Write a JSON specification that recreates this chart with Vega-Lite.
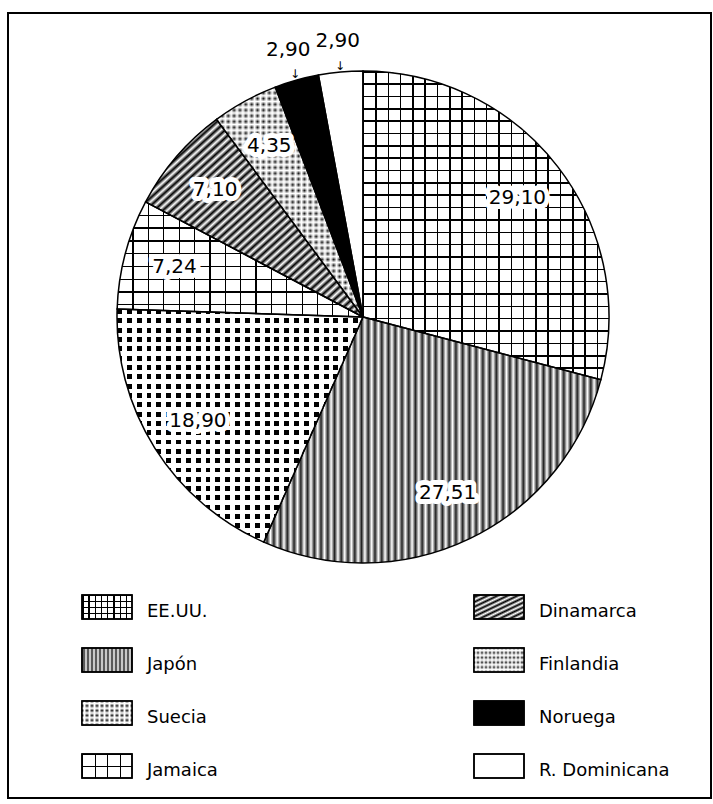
{
"$schema": "https://vega.github.io/schema/vega-lite/v6.json",
"width": 703, "height": 785,
"autosize": {"type": "none"},
"padding": {"left": 8, "top": 13, "right": 2, "bottom": 6},
"background": "#fff",
"params": [
 {"name": "cx", "expr": "width/2+3.5"},
 {"name": "cy", "expr": "height/2-88.5"},
 {"name": "bk", "value": "#000"},
 {"name": "wt", "value": "#fff"},
 {"name": "tr", "value": "rgba(0,0,0,0)"},
 {"name": "tw", "value": "rgba(255,255,255,0)"},
 {"name": "g2", "value": "#222"},
 {"name": "g4", "value": "#111"}
],
"config": {
 "view": {"stroke": null},
 "locale": {"number": {"decimal": ",", "thousands": ".", "grouping": [3], "currency": ["", ""]}},
 "legend": {"padding": 0, "columns": 2, "columnPadding": 253, "rowPadding": 12, "symbolSize": 2500, "symbolStrokeColor": "#000", "symbolStrokeWidth": 1.5, "symbolOpacity": 1, "labelFont": "DejaVu Sans", "labelFontSize": 18, "labelColor": "#000", "labelOffset": 14, "labelLimit": 400}
},
"data": {"values": [
 {"pais": "EE.UU.", "pct": 29.10, "orden": 1},
 {"pais": "Japón", "pct": 27.51, "orden": 2},
 {"pais": "Suecia", "pct": 18.90, "orden": 3},
 {"pais": "Jamaica", "pct": 7.24, "orden": 4},
 {"pais": "Dinamarca", "pct": 7.10, "orden": 5},
 {"pais": "Finlandia", "pct": 4.35, "orden": 6},
 {"pais": "Noruega", "pct": 2.90, "orden": 7},
 {"pais": "R. Dominicana", "pct": 2.90, "orden": 8}
]},
"layer": [
 {"data": {"values": [{"marco": 1}]},
  "mark": {"type": "rect", "fill": null, "stroke": "#000", "strokeWidth": 2},
  "encoding": {"x": {"value": 0}, "x2": {"value": "width"}, "y": {"value": 0}, "y2": {"value": "height"}}},
 {"encoding": {
   "theta": {"field": "pct", "type": "quantitative", "stack": true},
   "order": {"field": "orden", "type": "quantitative"}
  },
  "layer": [
 {"mark": {"type": "arc", "x": {"expr": "cx"}, "y": {"expr": "cy"}, "radius": 246},
  "encoding": {"fill": {"field": "pais", "type": "nominal",
   "scale": {"domain": ["EE.UU.", "Japón", "Suecia", "Jamaica", "Dinamarca", "Finlandia", "Noruega", "R. Dominicana"],
    "range": [
     {"expr": "{gradient:'linear',x1:0,y1:0,x2:1,y2:0,stops:[{offset:0,color:bk},{offset:.03,color:bk},{offset:.03,color:wt},{offset:.125,color:wt},{offset:.125,color:bk},{offset:.155,color:bk},{offset:.155,color:wt},{offset:.25,color:wt},{offset:.25,color:bk},{offset:.28,color:bk},{offset:.28,color:wt},{offset:.375,color:wt},{offset:.375,color:bk},{offset:.405,color:bk},{offset:.405,color:wt},{offset:.5,color:wt},{offset:.5,color:bk},{offset:.53,color:bk},{offset:.53,color:wt},{offset:.625,color:wt},{offset:.625,color:bk},{offset:.655,color:bk},{offset:.655,color:wt},{offset:.75,color:wt},{offset:.75,color:bk},{offset:.78,color:bk},{offset:.78,color:wt},{offset:.875,color:wt},{offset:.875,color:bk},{offset:.905,color:bk},{offset:.905,color:wt},{offset:1,color:wt}]}"},
     {"expr": "{gradient:'linear',x1:0,y1:0,x2:1,y2:0,stops:[{offset:0,color:wt},{offset:.04,color:g2},{offset:.08,color:wt},{offset:.12,color:g2},{offset:.16,color:wt},{offset:.2,color:g2},{offset:.24,color:wt},{offset:.28,color:g2},{offset:.32,color:wt},{offset:.36,color:g2},{offset:.4,color:wt},{offset:.44,color:g2},{offset:.48,color:wt},{offset:.52,color:g2},{offset:.56,color:wt},{offset:.6,color:g2},{offset:.64,color:wt},{offset:.68,color:g2},{offset:.72,color:wt},{offset:.76,color:g2},{offset:.8,color:wt},{offset:.84,color:g2},{offset:.88,color:wt},{offset:.92,color:g2},{offset:.96,color:wt},{offset:1,color:g2}]}"},
     {"expr": "{gradient:'linear',x1:0,y1:0,x2:1,y2:0,stops:[{offset:0,color:bk},{offset:.05,color:wt},{offset:.1,color:bk},{offset:.15,color:wt},{offset:.2,color:bk},{offset:.25,color:wt},{offset:.3,color:bk},{offset:.35,color:wt},{offset:.4,color:bk},{offset:.45,color:wt},{offset:.5,color:bk},{offset:.55,color:wt},{offset:.6,color:bk},{offset:.65,color:wt},{offset:.7,color:bk},{offset:.75,color:wt},{offset:.8,color:bk},{offset:.85,color:wt},{offset:.9,color:bk},{offset:.95,color:wt},{offset:1,color:bk}]}"},
     {"expr": "{gradient:'linear',x1:0,y1:0,x2:1,y2:0,stops:[{offset:0,color:bk},{offset:.025,color:bk},{offset:.025,color:wt},{offset:.25,color:wt},{offset:.25,color:bk},{offset:.275,color:bk},{offset:.275,color:wt},{offset:.5,color:wt},{offset:.5,color:bk},{offset:.525,color:bk},{offset:.525,color:wt},{offset:.75,color:wt},{offset:.75,color:bk},{offset:.775,color:bk},{offset:.775,color:wt},{offset:1,color:wt}]}"},
     {"expr": "{gradient:'linear',x1:0,y1:0,x2:1,y2:1,stops:[{offset:0,color:wt},{offset:.05,color:bk},{offset:.1,color:wt},{offset:.15,color:bk},{offset:.2,color:wt},{offset:.25,color:bk},{offset:.3,color:wt},{offset:.35,color:bk},{offset:.4,color:wt},{offset:.45,color:bk},{offset:.5,color:wt},{offset:.55,color:bk},{offset:.6,color:wt},{offset:.65,color:bk},{offset:.7,color:wt},{offset:.75,color:bk},{offset:.8,color:wt},{offset:.85,color:bk},{offset:.9,color:wt},{offset:.95,color:bk},{offset:1,color:wt}]}"},
     {"expr": "{gradient:'linear',x1:0,y1:0,x2:1,y2:0,stops:[{offset:0,color:g4},{offset:.04,color:wt},{offset:.08,color:g4},{offset:.12,color:wt},{offset:.16,color:g4},{offset:.2,color:wt},{offset:.24,color:g4},{offset:.28,color:wt},{offset:.32,color:g4},{offset:.36,color:wt},{offset:.4,color:g4},{offset:.44,color:wt},{offset:.48,color:g4},{offset:.52,color:wt},{offset:.56,color:g4},{offset:.6,color:wt},{offset:.64,color:g4},{offset:.68,color:wt},{offset:.72,color:g4},{offset:.76,color:wt},{offset:.8,color:g4},{offset:.84,color:wt},{offset:.88,color:g4},{offset:.92,color:wt},{offset:.96,color:g4},{offset:1,color:wt}]}"},
     "#000",
     "#fff"
    ]},
   "legend": {"title": null, "orient": "none", "legendX": 73, "legendY": 568, "zindex": 1, "symbolType": "M-1,-0.48L1,-0.48L1,0.48L-1,0.48Z", "encode": {"labels": {"update": {"dy": {"value": 5}}}}}}}},
 {"mark": {"type": "arc", "x": {"expr": "cx"}, "y": {"expr": "cy"}, "radius": 246},
  "encoding": {"fill": {"field": "pais", "type": "nominal",
   "scale": {"domain": ["EE.UU.", "Japón", "Suecia", "Jamaica", "Dinamarca", "Finlandia", "Noruega", "R. Dominicana"],
    "range": [
     {"expr": "{gradient:'linear',x1:0,y1:0,x2:0,y2:1,stops:[{offset:0,color:bk},{offset:.06,color:bk},{offset:.06,color:tr},{offset:.25,color:tr},{offset:.25,color:bk},{offset:.31,color:bk},{offset:.31,color:tr},{offset:.5,color:tr},{offset:.5,color:bk},{offset:.56,color:bk},{offset:.56,color:tr},{offset:.75,color:tr},{offset:.75,color:bk},{offset:.81,color:bk},{offset:.81,color:tr},{offset:1,color:tr}]}"},
     "rgba(0,0,0,0)",
     {"expr": "{gradient:'linear',x1:0,y1:0,x2:0,y2:1,stops:[{offset:0,color:tw},{offset:.1,color:wt},{offset:.2,color:tw},{offset:.3,color:wt},{offset:.4,color:tw},{offset:.5,color:wt},{offset:.6,color:tw},{offset:.7,color:wt},{offset:.8,color:tw},{offset:.9,color:wt},{offset:1,color:tw}]}"},
     {"expr": "{gradient:'linear',x1:0,y1:0,x2:0,y2:1,stops:[{offset:0,color:bk},{offset:.05,color:bk},{offset:.05,color:tr},{offset:.5,color:tr},{offset:.5,color:bk},{offset:.55,color:bk},{offset:.55,color:tr},{offset:1,color:tr}]}"},
     "rgba(0,0,0,0)",
     {"expr": "{gradient:'linear',x1:0,y1:0,x2:0,y2:1,stops:[{offset:0,color:tw},{offset:.1,color:wt},{offset:.2,color:tw},{offset:.3,color:wt},{offset:.4,color:tw},{offset:.5,color:wt},{offset:.6,color:tw},{offset:.7,color:wt},{offset:.8,color:tw},{offset:.9,color:wt},{offset:1,color:tw}]}"},
     "rgba(0,0,0,0)",
     "rgba(0,0,0,0)"
    ]},
   "legend": {"title": null, "orient": "none", "legendX": 73, "legendY": 568, "zindex": 2, "labelColor": "rgba(0,0,0,0)", "symbolType": "M-1,-0.48L1,-0.48L1,0.48L-1,0.48Z", "encode": {"labels": {"update": {"dy": {"value": 5}}}}}}}},
 {"mark": {"type": "arc", "x": {"expr": "cx"}, "y": {"expr": "cy"}, "radius": 246},
  "encoding": {"fill": {"field": "pais", "type": "nominal", "legend": null,
   "scale": {"domain": ["EE.UU.", "Dinamarca", "Japón", "Finlandia", "Suecia", "Noruega", "Jamaica", "R. Dominicana"],
    "range": [
     {"expr": "{gradient:'linear',x1:0,y1:0,x2:1,y2:0,stops:[{offset:0,color:bk},{offset:.006,color:bk},{offset:.006,color:wt},{offset:.05,color:wt},{offset:.05,color:bk},{offset:.056,color:bk},{offset:.056,color:wt},{offset:.1,color:wt},{offset:.1,color:bk},{offset:.106,color:bk},{offset:.106,color:wt},{offset:.15,color:wt},{offset:.15,color:bk},{offset:.156,color:bk},{offset:.156,color:wt},{offset:.2,color:wt},{offset:.2,color:bk},{offset:.206,color:bk},{offset:.206,color:wt},{offset:.25,color:wt},{offset:.25,color:bk},{offset:.256,color:bk},{offset:.256,color:wt},{offset:.3,color:wt},{offset:.3,color:bk},{offset:.306,color:bk},{offset:.306,color:wt},{offset:.35,color:wt},{offset:.35,color:bk},{offset:.356,color:bk},{offset:.356,color:wt},{offset:.4,color:wt},{offset:.4,color:bk},{offset:.406,color:bk},{offset:.406,color:wt},{offset:.45,color:wt},{offset:.45,color:bk},{offset:.456,color:bk},{offset:.456,color:wt},{offset:.5,color:wt},{offset:.5,color:bk},{offset:.506,color:bk},{offset:.506,color:wt},{offset:.55,color:wt},{offset:.55,color:bk},{offset:.556,color:bk},{offset:.556,color:wt},{offset:.6,color:wt},{offset:.6,color:bk},{offset:.606,color:bk},{offset:.606,color:wt},{offset:.65,color:wt},{offset:.65,color:bk},{offset:.656,color:bk},{offset:.656,color:wt},{offset:.7,color:wt},{offset:.7,color:bk},{offset:.706,color:bk},{offset:.706,color:wt},{offset:.75,color:wt},{offset:.75,color:bk},{offset:.756,color:bk},{offset:.756,color:wt},{offset:.8,color:wt},{offset:.8,color:bk},{offset:.806,color:bk},{offset:.806,color:wt},{offset:.85,color:wt},{offset:.85,color:bk},{offset:.856,color:bk},{offset:.856,color:wt},{offset:.9,color:wt},{offset:.9,color:bk},{offset:.906,color:bk},{offset:.906,color:wt},{offset:.95,color:wt},{offset:.95,color:bk},{offset:.956,color:bk},{offset:.956,color:wt},{offset:1,color:wt}]}"},
     {"expr": "{gradient:'linear',x1:0,y1:0,x2:1,y2:1,stops:[{offset:0,color:wt},{offset:.01,color:bk},{offset:.02,color:wt},{offset:.03,color:bk},{offset:.04,color:wt},{offset:.05,color:bk},{offset:.06,color:wt},{offset:.07,color:bk},{offset:.08,color:wt},{offset:.09,color:bk},{offset:.1,color:wt},{offset:.11,color:bk},{offset:.12,color:wt},{offset:.13,color:bk},{offset:.14,color:wt},{offset:.15,color:bk},{offset:.16,color:wt},{offset:.17,color:bk},{offset:.18,color:wt},{offset:.19,color:bk},{offset:.2,color:wt},{offset:.21,color:bk},{offset:.22,color:wt},{offset:.23,color:bk},{offset:.24,color:wt},{offset:.25,color:bk},{offset:.26,color:wt},{offset:.27,color:bk},{offset:.28,color:wt},{offset:.29,color:bk},{offset:.3,color:wt},{offset:.31,color:bk},{offset:.32,color:wt},{offset:.33,color:bk},{offset:.34,color:wt},{offset:.35,color:bk},{offset:.36,color:wt},{offset:.37,color:bk},{offset:.38,color:wt},{offset:.39,color:bk},{offset:.4,color:wt},{offset:.41,color:bk},{offset:.42,color:wt},{offset:.43,color:bk},{offset:.44,color:wt},{offset:.45,color:bk},{offset:.46,color:wt},{offset:.47,color:bk},{offset:.48,color:wt},{offset:.49,color:bk},{offset:.5,color:wt},{offset:.51,color:bk},{offset:.52,color:wt},{offset:.53,color:bk},{offset:.54,color:wt},{offset:.55,color:bk},{offset:.56,color:wt},{offset:.57,color:bk},{offset:.58,color:wt},{offset:.59,color:bk},{offset:.6,color:wt},{offset:.61,color:bk},{offset:.62,color:wt},{offset:.63,color:bk},{offset:.64,color:wt},{offset:.65,color:bk},{offset:.66,color:wt},{offset:.67,color:bk},{offset:.68,color:wt},{offset:.69,color:bk},{offset:.7,color:wt},{offset:.71,color:bk},{offset:.72,color:wt},{offset:.73,color:bk},{offset:.74,color:wt},{offset:.75,color:bk},{offset:.76,color:wt},{offset:.77,color:bk},{offset:.78,color:wt},{offset:.79,color:bk},{offset:.8,color:wt},{offset:.81,color:bk},{offset:.82,color:wt},{offset:.83,color:bk},{offset:.84,color:wt},{offset:.85,color:bk},{offset:.86,color:wt},{offset:.87,color:bk},{offset:.88,color:wt},{offset:.89,color:bk},{offset:.9,color:wt},{offset:.91,color:bk},{offset:.92,color:wt},{offset:.93,color:bk},{offset:.94,color:wt},{offset:.95,color:bk},{offset:.96,color:wt},{offset:.97,color:bk},{offset:.98,color:wt},{offset:.99,color:bk},{offset:1,color:wt}]}"},
     {"expr": "{gradient:'linear',x1:0,y1:0,x2:1,y2:0,stops:[{offset:0,color:wt},{offset:.01,color:g2},{offset:.02,color:wt},{offset:.03,color:g2},{offset:.04,color:wt},{offset:.05,color:g2},{offset:.06,color:wt},{offset:.07,color:g2},{offset:.08,color:wt},{offset:.09,color:g2},{offset:.1,color:wt},{offset:.11,color:g2},{offset:.12,color:wt},{offset:.13,color:g2},{offset:.14,color:wt},{offset:.15,color:g2},{offset:.16,color:wt},{offset:.17,color:g2},{offset:.18,color:wt},{offset:.19,color:g2},{offset:.2,color:wt},{offset:.21,color:g2},{offset:.22,color:wt},{offset:.23,color:g2},{offset:.24,color:wt},{offset:.25,color:g2},{offset:.26,color:wt},{offset:.27,color:g2},{offset:.28,color:wt},{offset:.29,color:g2},{offset:.3,color:wt},{offset:.31,color:g2},{offset:.32,color:wt},{offset:.33,color:g2},{offset:.34,color:wt},{offset:.35,color:g2},{offset:.36,color:wt},{offset:.37,color:g2},{offset:.38,color:wt},{offset:.39,color:g2},{offset:.4,color:wt},{offset:.41,color:g2},{offset:.42,color:wt},{offset:.43,color:g2},{offset:.44,color:wt},{offset:.45,color:g2},{offset:.46,color:wt},{offset:.47,color:g2},{offset:.48,color:wt},{offset:.49,color:g2},{offset:.5,color:wt},{offset:.51,color:g2},{offset:.52,color:wt},{offset:.53,color:g2},{offset:.54,color:wt},{offset:.55,color:g2},{offset:.56,color:wt},{offset:.57,color:g2},{offset:.58,color:wt},{offset:.59,color:g2},{offset:.6,color:wt},{offset:.61,color:g2},{offset:.62,color:wt},{offset:.63,color:g2},{offset:.64,color:wt},{offset:.65,color:g2},{offset:.66,color:wt},{offset:.67,color:g2},{offset:.68,color:wt},{offset:.69,color:g2},{offset:.7,color:wt},{offset:.71,color:g2},{offset:.72,color:wt},{offset:.73,color:g2},{offset:.74,color:wt},{offset:.75,color:g2},{offset:.76,color:wt},{offset:.77,color:g2},{offset:.78,color:wt},{offset:.79,color:g2},{offset:.8,color:wt},{offset:.81,color:g2},{offset:.82,color:wt},{offset:.83,color:g2},{offset:.84,color:wt},{offset:.85,color:g2},{offset:.86,color:wt},{offset:.87,color:g2},{offset:.88,color:wt},{offset:.89,color:g2},{offset:.9,color:wt},{offset:.91,color:g2},{offset:.92,color:wt},{offset:.93,color:g2},{offset:.94,color:wt},{offset:.95,color:g2},{offset:.96,color:wt},{offset:.97,color:g2},{offset:.98,color:wt},{offset:.99,color:g2},{offset:1,color:wt}]}"},
     {"expr": "{gradient:'linear',x1:0,y1:0,x2:1,y2:0,stops:[{offset:0,color:g4},{offset:.02,color:wt},{offset:.04,color:g4},{offset:.06,color:wt},{offset:.08,color:g4},{offset:.1,color:wt},{offset:.12,color:g4},{offset:.14,color:wt},{offset:.16,color:g4},{offset:.18,color:wt},{offset:.2,color:g4},{offset:.22,color:wt},{offset:.24,color:g4},{offset:.26,color:wt},{offset:.28,color:g4},{offset:.3,color:wt},{offset:.32,color:g4},{offset:.34,color:wt},{offset:.36,color:g4},{offset:.38,color:wt},{offset:.4,color:g4},{offset:.42,color:wt},{offset:.44,color:g4},{offset:.46,color:wt},{offset:.48,color:g4},{offset:.5,color:wt},{offset:.52,color:g4},{offset:.54,color:wt},{offset:.56,color:g4},{offset:.58,color:wt},{offset:.6,color:g4},{offset:.62,color:wt},{offset:.64,color:g4},{offset:.66,color:wt},{offset:.68,color:g4},{offset:.7,color:wt},{offset:.72,color:g4},{offset:.74,color:wt},{offset:.76,color:g4},{offset:.78,color:wt},{offset:.8,color:g4},{offset:.82,color:wt},{offset:.84,color:g4},{offset:.86,color:wt},{offset:.88,color:g4},{offset:.9,color:wt},{offset:.92,color:g4},{offset:.94,color:wt},{offset:.96,color:g4},{offset:.98,color:wt},{offset:1,color:g4}]}"},
     {"expr": "{gradient:'linear',x1:0,y1:0,x2:1,y2:0,stops:[{offset:0,color:bk},{offset:.02,color:bk},{offset:.02,color:wt},{offset:.04,color:wt},{offset:.04,color:bk},{offset:.06,color:bk},{offset:.06,color:wt},{offset:.08,color:wt},{offset:.08,color:bk},{offset:.1,color:bk},{offset:.1,color:wt},{offset:.12,color:wt},{offset:.12,color:bk},{offset:.14,color:bk},{offset:.14,color:wt},{offset:.16,color:wt},{offset:.16,color:bk},{offset:.18,color:bk},{offset:.18,color:wt},{offset:.2,color:wt},{offset:.2,color:bk},{offset:.22,color:bk},{offset:.22,color:wt},{offset:.24,color:wt},{offset:.24,color:bk},{offset:.26,color:bk},{offset:.26,color:wt},{offset:.28,color:wt},{offset:.28,color:bk},{offset:.3,color:bk},{offset:.3,color:wt},{offset:.32,color:wt},{offset:.32,color:bk},{offset:.34,color:bk},{offset:.34,color:wt},{offset:.36,color:wt},{offset:.36,color:bk},{offset:.38,color:bk},{offset:.38,color:wt},{offset:.4,color:wt},{offset:.4,color:bk},{offset:.42,color:bk},{offset:.42,color:wt},{offset:.44,color:wt},{offset:.44,color:bk},{offset:.46,color:bk},{offset:.46,color:wt},{offset:.48,color:wt},{offset:.48,color:bk},{offset:.5,color:bk},{offset:.5,color:wt},{offset:.52,color:wt},{offset:.52,color:bk},{offset:.54,color:bk},{offset:.54,color:wt},{offset:.56,color:wt},{offset:.56,color:bk},{offset:.58,color:bk},{offset:.58,color:wt},{offset:.6,color:wt},{offset:.6,color:bk},{offset:.62,color:bk},{offset:.62,color:wt},{offset:.64,color:wt},{offset:.64,color:bk},{offset:.66,color:bk},{offset:.66,color:wt},{offset:.68,color:wt},{offset:.68,color:bk},{offset:.7,color:bk},{offset:.7,color:wt},{offset:.72,color:wt},{offset:.72,color:bk},{offset:.74,color:bk},{offset:.74,color:wt},{offset:.76,color:wt},{offset:.76,color:bk},{offset:.78,color:bk},{offset:.78,color:wt},{offset:.8,color:wt},{offset:.8,color:bk},{offset:.82,color:bk},{offset:.82,color:wt},{offset:.84,color:wt},{offset:.84,color:bk},{offset:.86,color:bk},{offset:.86,color:wt},{offset:.88,color:wt},{offset:.88,color:bk},{offset:.9,color:bk},{offset:.9,color:wt},{offset:.92,color:wt},{offset:.92,color:bk},{offset:.94,color:bk},{offset:.94,color:wt},{offset:.96,color:wt},{offset:.96,color:bk},{offset:.98,color:bk},{offset:.98,color:wt},{offset:1,color:wt}]}"},
     "#000",
     {"expr": "{gradient:'linear',x1:0,y1:0,x2:1,y2:0,stops:[{offset:0,color:bk},{offset:.005,color:bk},{offset:.005,color:wt},{offset:.0625,color:wt},{offset:.0625,color:bk},{offset:.0675,color:bk},{offset:.0675,color:wt},{offset:.125,color:wt},{offset:.125,color:bk},{offset:.13,color:bk},{offset:.13,color:wt},{offset:.1875,color:wt},{offset:.1875,color:bk},{offset:.1925,color:bk},{offset:.1925,color:wt},{offset:.25,color:wt},{offset:.25,color:bk},{offset:.255,color:bk},{offset:.255,color:wt},{offset:.3125,color:wt},{offset:.3125,color:bk},{offset:.3175,color:bk},{offset:.3175,color:wt},{offset:.375,color:wt},{offset:.375,color:bk},{offset:.38,color:bk},{offset:.38,color:wt},{offset:.4375,color:wt},{offset:.4375,color:bk},{offset:.4425,color:bk},{offset:.4425,color:wt},{offset:.5,color:wt},{offset:.5,color:bk},{offset:.505,color:bk},{offset:.505,color:wt},{offset:.5625,color:wt},{offset:.5625,color:bk},{offset:.5675,color:bk},{offset:.5675,color:wt},{offset:.625,color:wt},{offset:.625,color:bk},{offset:.63,color:bk},{offset:.63,color:wt},{offset:.6875,color:wt},{offset:.6875,color:bk},{offset:.6925,color:bk},{offset:.6925,color:wt},{offset:.75,color:wt},{offset:.75,color:bk},{offset:.755,color:bk},{offset:.755,color:wt},{offset:.8125,color:wt},{offset:.8125,color:bk},{offset:.8175,color:bk},{offset:.8175,color:wt},{offset:.875,color:wt},{offset:.875,color:bk},{offset:.88,color:bk},{offset:.88,color:wt},{offset:.9375,color:wt},{offset:.9375,color:bk},{offset:.9425,color:bk},{offset:.9425,color:wt},{offset:1,color:wt}]}"},
     "#fff"
    ]}}}},
 {"mark": {"type": "arc", "x": {"expr": "cx"}, "y": {"expr": "cy"}, "radius": 246, "stroke": "#000", "strokeWidth": 1.5},
  "encoding": {"fill": {"field": "pais", "type": "nominal", "legend": null,
   "scale": {"domain": ["EE.UU.", "Dinamarca", "Japón", "Finlandia", "Suecia", "Noruega", "Jamaica", "R. Dominicana"],
    "range": [
     {"expr": "{gradient:'linear',x1:0,y1:0,x2:0,y2:1,stops:[{offset:0,color:bk},{offset:.005,color:bk},{offset:.005,color:tr},{offset:.04,color:tr},{offset:.04,color:bk},{offset:.045,color:bk},{offset:.045,color:tr},{offset:.08,color:tr},{offset:.08,color:bk},{offset:.085,color:bk},{offset:.085,color:tr},{offset:.12,color:tr},{offset:.12,color:bk},{offset:.125,color:bk},{offset:.125,color:tr},{offset:.16,color:tr},{offset:.16,color:bk},{offset:.165,color:bk},{offset:.165,color:tr},{offset:.2,color:tr},{offset:.2,color:bk},{offset:.205,color:bk},{offset:.205,color:tr},{offset:.24,color:tr},{offset:.24,color:bk},{offset:.245,color:bk},{offset:.245,color:tr},{offset:.28,color:tr},{offset:.28,color:bk},{offset:.285,color:bk},{offset:.285,color:tr},{offset:.32,color:tr},{offset:.32,color:bk},{offset:.325,color:bk},{offset:.325,color:tr},{offset:.36,color:tr},{offset:.36,color:bk},{offset:.365,color:bk},{offset:.365,color:tr},{offset:.4,color:tr},{offset:.4,color:bk},{offset:.405,color:bk},{offset:.405,color:tr},{offset:.44,color:tr},{offset:.44,color:bk},{offset:.445,color:bk},{offset:.445,color:tr},{offset:.48,color:tr},{offset:.48,color:bk},{offset:.485,color:bk},{offset:.485,color:tr},{offset:.52,color:tr},{offset:.52,color:bk},{offset:.525,color:bk},{offset:.525,color:tr},{offset:.56,color:tr},{offset:.56,color:bk},{offset:.565,color:bk},{offset:.565,color:tr},{offset:.6,color:tr},{offset:.6,color:bk},{offset:.605,color:bk},{offset:.605,color:tr},{offset:.64,color:tr},{offset:.64,color:bk},{offset:.645,color:bk},{offset:.645,color:tr},{offset:.68,color:tr},{offset:.68,color:bk},{offset:.685,color:bk},{offset:.685,color:tr},{offset:.72,color:tr},{offset:.72,color:bk},{offset:.725,color:bk},{offset:.725,color:tr},{offset:.76,color:tr},{offset:.76,color:bk},{offset:.765,color:bk},{offset:.765,color:tr},{offset:.8,color:tr},{offset:.8,color:bk},{offset:.805,color:bk},{offset:.805,color:tr},{offset:.84,color:tr},{offset:.84,color:bk},{offset:.845,color:bk},{offset:.845,color:tr},{offset:.88,color:tr},{offset:.88,color:bk},{offset:.885,color:bk},{offset:.885,color:tr},{offset:.92,color:tr},{offset:.92,color:bk},{offset:.925,color:bk},{offset:.925,color:tr},{offset:.96,color:tr},{offset:.96,color:bk},{offset:.965,color:bk},{offset:.965,color:tr},{offset:1,color:tr}]}"},
     "rgba(0,0,0,0)",
     "rgba(0,0,0,0)",
     {"expr": "{gradient:'linear',x1:0,y1:0,x2:0,y2:1,stops:[{offset:0,color:tw},{offset:.0125,color:wt},{offset:.025,color:tw},{offset:.0375,color:wt},{offset:.05,color:tw},{offset:.0625,color:wt},{offset:.075,color:tw},{offset:.0875,color:wt},{offset:.1,color:tw},{offset:.1125,color:wt},{offset:.125,color:tw},{offset:.1375,color:wt},{offset:.15,color:tw},{offset:.1625,color:wt},{offset:.175,color:tw},{offset:.1875,color:wt},{offset:.2,color:tw},{offset:.2125,color:wt},{offset:.225,color:tw},{offset:.2375,color:wt},{offset:.25,color:tw},{offset:.2625,color:wt},{offset:.275,color:tw},{offset:.2875,color:wt},{offset:.3,color:tw},{offset:.3125,color:wt},{offset:.325,color:tw},{offset:.3375,color:wt},{offset:.35,color:tw},{offset:.3625,color:wt},{offset:.375,color:tw},{offset:.3875,color:wt},{offset:.4,color:tw},{offset:.4125,color:wt},{offset:.425,color:tw},{offset:.4375,color:wt},{offset:.45,color:tw},{offset:.4625,color:wt},{offset:.475,color:tw},{offset:.4875,color:wt},{offset:.5,color:tw},{offset:.5125,color:wt},{offset:.525,color:tw},{offset:.5375,color:wt},{offset:.55,color:tw},{offset:.5625,color:wt},{offset:.575,color:tw},{offset:.5875,color:wt},{offset:.6,color:tw},{offset:.6125,color:wt},{offset:.625,color:tw},{offset:.6375,color:wt},{offset:.65,color:tw},{offset:.6625,color:wt},{offset:.675,color:tw},{offset:.6875,color:wt},{offset:.7,color:tw},{offset:.7125,color:wt},{offset:.725,color:tw},{offset:.7375,color:wt},{offset:.75,color:tw},{offset:.7625,color:wt},{offset:.775,color:tw},{offset:.7875,color:wt},{offset:.8,color:tw},{offset:.8125,color:wt},{offset:.825,color:tw},{offset:.8375,color:wt},{offset:.85,color:tw},{offset:.8625,color:wt},{offset:.875,color:tw},{offset:.8875,color:wt},{offset:.9,color:tw},{offset:.9125,color:wt},{offset:.925,color:tw},{offset:.9375,color:wt},{offset:.95,color:tw},{offset:.9625,color:wt},{offset:.975,color:tw},{offset:.9875,color:wt},{offset:1,color:tw}]}"},
     {"expr": "{gradient:'linear',x1:0,y1:0,x2:0,y2:1,stops:[{offset:0,color:tr},{offset:.021,color:tr},{offset:.021,color:wt},{offset:.04,color:wt},{offset:.04,color:tr},{offset:.061,color:tr},{offset:.061,color:wt},{offset:.08,color:wt},{offset:.08,color:tr},{offset:.101,color:tr},{offset:.101,color:wt},{offset:.12,color:wt},{offset:.12,color:tr},{offset:.141,color:tr},{offset:.141,color:wt},{offset:.16,color:wt},{offset:.16,color:tr},{offset:.181,color:tr},{offset:.181,color:wt},{offset:.2,color:wt},{offset:.2,color:tr},{offset:.221,color:tr},{offset:.221,color:wt},{offset:.24,color:wt},{offset:.24,color:tr},{offset:.261,color:tr},{offset:.261,color:wt},{offset:.28,color:wt},{offset:.28,color:tr},{offset:.301,color:tr},{offset:.301,color:wt},{offset:.32,color:wt},{offset:.32,color:tr},{offset:.341,color:tr},{offset:.341,color:wt},{offset:.36,color:wt},{offset:.36,color:tr},{offset:.381,color:tr},{offset:.381,color:wt},{offset:.4,color:wt},{offset:.4,color:tr},{offset:.421,color:tr},{offset:.421,color:wt},{offset:.44,color:wt},{offset:.44,color:tr},{offset:.461,color:tr},{offset:.461,color:wt},{offset:.48,color:wt},{offset:.48,color:tr},{offset:.501,color:tr},{offset:.501,color:wt},{offset:.52,color:wt},{offset:.52,color:tr},{offset:.541,color:tr},{offset:.541,color:wt},{offset:.56,color:wt},{offset:.56,color:tr},{offset:.581,color:tr},{offset:.581,color:wt},{offset:.6,color:wt},{offset:.6,color:tr},{offset:.621,color:tr},{offset:.621,color:wt},{offset:.64,color:wt},{offset:.64,color:tr},{offset:.661,color:tr},{offset:.661,color:wt},{offset:.68,color:wt},{offset:.68,color:tr},{offset:.701,color:tr},{offset:.701,color:wt},{offset:.72,color:wt},{offset:.72,color:tr},{offset:.741,color:tr},{offset:.741,color:wt},{offset:.76,color:wt},{offset:.76,color:tr},{offset:.781,color:tr},{offset:.781,color:wt},{offset:.8,color:wt},{offset:.8,color:tr},{offset:.821,color:tr},{offset:.821,color:wt},{offset:.84,color:wt},{offset:.84,color:tr},{offset:.861,color:tr},{offset:.861,color:wt},{offset:.88,color:wt},{offset:.88,color:tr},{offset:.901,color:tr},{offset:.901,color:wt},{offset:.92,color:wt},{offset:.92,color:tr},{offset:.941,color:tr},{offset:.941,color:wt},{offset:.96,color:wt},{offset:.96,color:tr},{offset:.981,color:tr},{offset:.981,color:wt},{offset:1,color:wt}]}"},
     "rgba(0,0,0,0)",
     {"expr": "{gradient:'linear',x1:0,y1:0,x2:0,y2:1,stops:[{offset:0,color:bk},{offset:.011,color:bk},{offset:.011,color:tr},{offset:.1111,color:tr},{offset:.1111,color:bk},{offset:.1221,color:bk},{offset:.1221,color:tr},{offset:.2222,color:tr},{offset:.2222,color:bk},{offset:.2332,color:bk},{offset:.2332,color:tr},{offset:.3333,color:tr},{offset:.3333,color:bk},{offset:.3443,color:bk},{offset:.3443,color:tr},{offset:.4444,color:tr},{offset:.4444,color:bk},{offset:.4554,color:bk},{offset:.4554,color:tr},{offset:.5556,color:tr},{offset:.5556,color:bk},{offset:.5666,color:bk},{offset:.5666,color:tr},{offset:.6667,color:tr},{offset:.6667,color:bk},{offset:.6777,color:bk},{offset:.6777,color:tr},{offset:.7778,color:tr},{offset:.7778,color:bk},{offset:.7888,color:bk},{offset:.7888,color:tr},{offset:.8889,color:tr},{offset:.8889,color:bk},{offset:.8999,color:bk},{offset:.8999,color:tr},{offset:1,color:tr}]}"},
     "rgba(0,0,0,0)"
    ]}}}},
 {"mark": {"type": "text", "x": {"expr": "cx"}, "y": {"expr": "cy"}, "radius": 195, "font": "DejaVu Sans", "fontSize": 20, "fill": "#fff", "stroke": "#fff", "strokeWidth": 10, "strokeJoin": "round"},
  "encoding": {"text": {"condition": {"test": "datum.pct >= 4", "field": "pct", "type": "quantitative", "format": ".2f"}, "value": ""}}},
 {"mark": {"type": "text", "x": {"expr": "cx"}, "y": {"expr": "cy"}, "radius": 195, "font": "DejaVu Sans", "fontSize": 20, "fill": "#000"},
  "encoding": {"text": {"condition": {"test": "datum.pct >= 4", "field": "pct", "type": "quantitative", "format": ".2f"}, "value": ""}}},
 {"mark": {"type": "text", "x": {"expr": "cx"}, "y": {"expr": "cy"}, "radius": 277, "font": "DejaVu Sans", "fontSize": 20, "fill": "#000"},
  "encoding": {"text": {"condition": {"test": "datum.pct < 4", "field": "pct", "type": "quantitative", "format": ".2f"}, "value": ""}}},
 {"mark": {"type": "text", "x": {"expr": "cx"}, "y": {"expr": "cy"}, "radius": 252, "font": "DejaVu Sans", "fontSize": 12, "fill": "#000"},
  "encoding": {"text": {"condition": {"test": "datum.pct < 4", "value": "↓"}, "value": ""}}}
  ],
  "resolve": {"scale": {"fill": "independent"}, "legend": {"fill": "independent"}}
 }
],
"resolve": {"scale": {"fill": "independent"}, "legend": {"fill": "independent"}}
}
